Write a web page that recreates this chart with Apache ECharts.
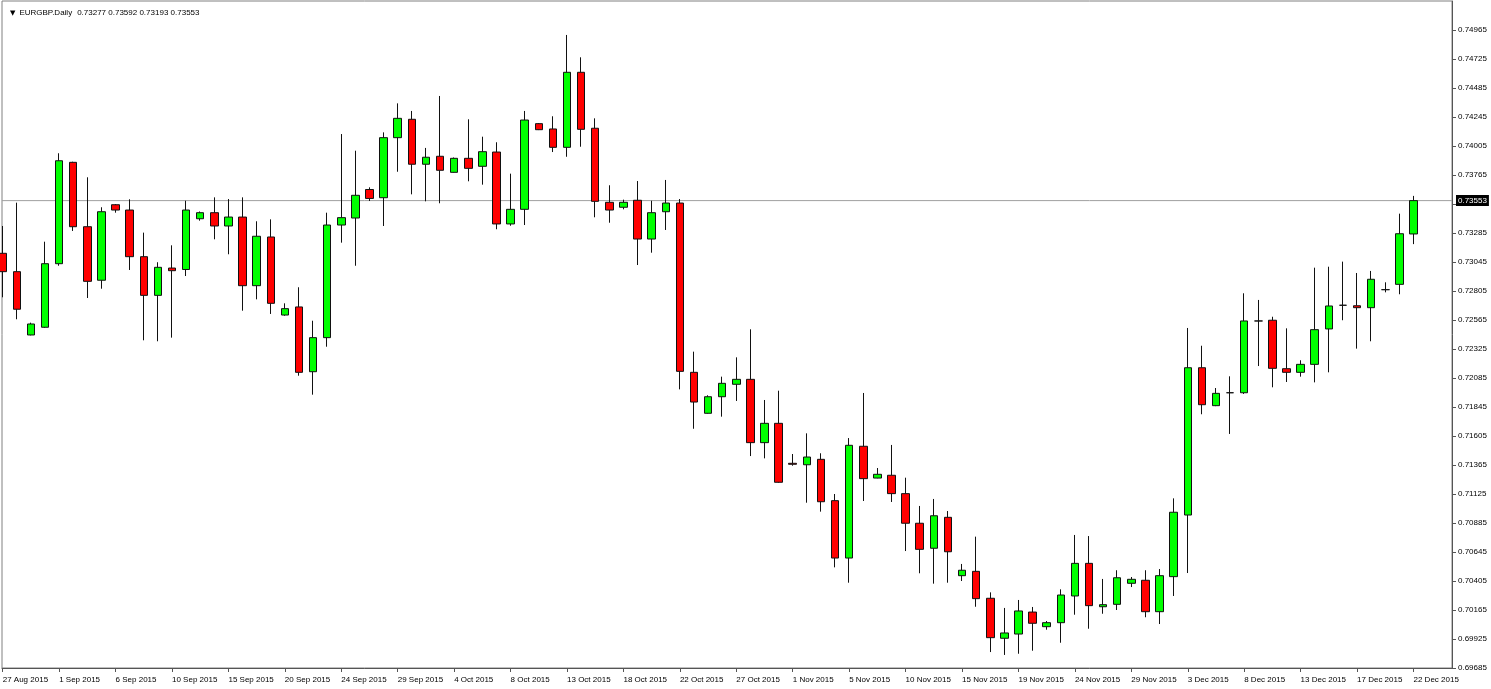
<!DOCTYPE html>
<html><head><meta charset="utf-8">
<script src="https://cdn.jsdelivr.net/npm/echarts@6/dist/echarts.min.js"></script>
<style>html,body{margin:0;padding:0;background:#fff}#c{width:1491px;height:689px}</style>
</head><body><div id="c"></div><script>
const symbolName = 'EURGBP.Daily';
const dates = ['27 Aug 2015','28 Aug 2015','30 Aug 2015','31 Aug 2015',
 '1 Sep 2015','2 Sep 2015','3 Sep 2015','4 Sep 2015','6 Sep 2015','7 Sep 2015','8 Sep 2015','9 Sep 2015','10 Sep 2015','11 Sep 2015',
 '13 Sep 2015','14 Sep 2015','15 Sep 2015','16 Sep 2015','17 Sep 2015','18 Sep 2015','20 Sep 2015','21 Sep 2015','22 Sep 2015','23 Sep 2015',
 '24 Sep 2015','25 Sep 2015','27 Sep 2015','28 Sep 2015','29 Sep 2015','30 Sep 2015',
 '1 Oct 2015','2 Oct 2015','4 Oct 2015','5 Oct 2015','6 Oct 2015','7 Oct 2015','8 Oct 2015','9 Oct 2015','11 Oct 2015','12 Oct 2015',
 '13 Oct 2015','14 Oct 2015','15 Oct 2015','16 Oct 2015','18 Oct 2015','19 Oct 2015','20 Oct 2015','21 Oct 2015','22 Oct 2015','23 Oct 2015',
 '25 Oct 2015','26 Oct 2015','27 Oct 2015','28 Oct 2015','29 Oct 2015','30 Oct 2015',
 '1 Nov 2015','2 Nov 2015','3 Nov 2015','4 Nov 2015','5 Nov 2015','6 Nov 2015','8 Nov 2015','9 Nov 2015','10 Nov 2015','11 Nov 2015',
 '12 Nov 2015','13 Nov 2015','15 Nov 2015','16 Nov 2015','17 Nov 2015','18 Nov 2015','19 Nov 2015','20 Nov 2015','22 Nov 2015','23 Nov 2015',
 '24 Nov 2015','25 Nov 2015','26 Nov 2015','27 Nov 2015','29 Nov 2015','30 Nov 2015',
 '1 Dec 2015','2 Dec 2015','3 Dec 2015','4 Dec 2015','6 Dec 2015','7 Dec 2015','8 Dec 2015','9 Dec 2015','10 Dec 2015','11 Dec 2015',
 '13 Dec 2015','14 Dec 2015','15 Dec 2015','16 Dec 2015','17 Dec 2015','18 Dec 2015','20 Dec 2015','21 Dec 2015','22 Dec 2015'];

const open = [0.73117,0.72965,0.72441,0.72505,0.73031,0.73870,0.73337,0.72894,0.73519,0.73475,
 0.73089,0.72769,0.72995,0.72983,0.73403,0.73453,0.73343,0.73417,0.72849,0.73252,
 0.72606,0.72673,0.72137,0.72419,0.73351,0.73409,0.73645,0.73577,0.74074,0.74226,
 0.73854,0.73920,0.73787,0.73903,0.73837,0.73955,0.73360,0.73481,0.74190,0.74146,
 0.73994,0.74615,0.74152,0.73539,0.73498,0.73556,0.73235,0.73461,0.73533,0.72132,
 0.71793,0.71930,0.72033,0.72074,0.71550,0.71710,0.71379,0.71367,0.71412,0.71070,
 0.70595,0.71520,0.71257,0.71280,0.71128,0.70883,0.70676,0.70932,0.70449,0.70485,
 0.70262,0.69931,0.69966,0.70148,0.70027,0.70060,0.70281,0.70551,0.70192,0.70212,
 0.70386,0.70411,0.70151,0.70441,0.70951,0.72170,0.71856,0.71963,0.71963,0.72557,
 0.72563,0.72162,0.72132,0.72198,0.72491,0.72687,0.72683,0.72667,0.72816,0.72860,
 0.73277];
const high = [0.73343,0.73536,0.72543,0.73213,0.73945,0.73875,0.73746,0.73498,0.73525,0.73564,
 0.73288,0.73043,0.73183,0.73552,0.73463,0.73580,0.73566,0.73580,0.73382,0.73398,
 0.72703,0.72836,0.72559,0.73453,0.74104,0.73966,0.73663,0.74118,0.74358,0.74295,
 0.73989,0.74419,0.73910,0.74226,0.74082,0.74036,0.73776,0.74295,0.74195,0.74251,
 0.74924,0.74739,0.74234,0.73680,0.73561,0.73715,0.73552,0.73724,0.73566,0.72303,
 0.71942,0.72096,0.72256,0.72488,0.71903,0.71980,0.71456,0.71627,0.71462,0.71125,
 0.71588,0.71961,0.71340,0.71531,0.71260,0.71026,0.71084,0.70984,0.70546,0.70772,
 0.70311,0.70182,0.70248,0.70190,0.70074,0.70336,0.70786,0.70777,0.70422,0.70494,
 0.70438,0.70494,0.70504,0.71089,0.72499,0.72352,0.72002,0.72099,0.72786,0.72731,
 0.72592,0.72496,0.72232,0.72998,0.73006,0.73048,0.72954,0.72971,0.72877,0.73445,
 0.73592];
const low = [0.72753,0.72571,0.72438,0.72500,0.73014,0.73302,0.72747,0.72824,0.73453,0.72979,
 0.72397,0.72389,0.72419,0.72929,0.73387,0.73233,0.73109,0.72642,0.72736,0.72615,
 0.72600,0.72104,0.71947,0.72344,0.73205,0.73014,0.73550,0.73343,0.73792,0.73605,
 0.73547,0.73531,0.73785,0.73713,0.73685,0.73316,0.73345,0.73351,0.74137,0.73955,
 0.73916,0.73999,0.73415,0.73370,0.73481,0.73020,0.73122,0.73310,0.71991,0.71665,
 0.71790,0.71765,0.71895,0.71439,0.71420,0.71218,0.71359,0.71053,0.70979,0.70518,
 0.70391,0.71067,0.71255,0.71059,0.70653,0.70469,0.70383,0.70391,0.70405,0.70192,
 0.69817,0.69793,0.69803,0.69828,0.70002,0.69894,0.70126,0.70010,0.70134,0.70165,
 0.70355,0.70105,0.70049,0.70281,0.70471,0.71785,0.71852,0.71622,0.71953,0.72184,
 0.72008,0.72052,0.72096,0.72049,0.72132,0.72563,0.72328,0.72389,0.72794,0.72778,
 0.73193];
const close = [0.72965,0.72654,0.72532,0.73031,0.73883,0.73337,0.72885,0.73461,0.73475,0.73089,
 0.72769,0.73001,0.72973,0.73475,0.73453,0.73343,0.73417,0.72849,0.73258,0.72703,
 0.72659,0.72132,0.72419,0.73351,0.73412,0.73597,0.73571,0.74074,0.74234,0.73854,
 0.73912,0.73804,0.73903,0.73820,0.73958,0.73360,0.73481,0.74220,0.74140,0.73994,
 0.74615,0.74143,0.73547,0.73475,0.73539,0.73235,0.73453,0.73533,0.72140,0.71886,
 0.71930,0.72041,0.72074,0.71550,0.71710,0.71222,0.71371,0.71431,0.71061,0.70595,
 0.71528,0.71252,0.71288,0.71128,0.70883,0.70667,0.70945,0.70647,0.70494,0.70259,
 0.69936,0.69975,0.70157,0.70055,0.70060,0.70289,0.70551,0.70201,0.70209,0.70432,
 0.70419,0.70151,0.70449,0.70974,0.72170,0.71864,0.71958,0.71963,0.72557,0.72557,
 0.72165,0.72132,0.72198,0.72485,0.72681,0.72687,0.72667,0.72902,0.72816,0.73279,
 0.73553];
const yTickLabels = [0.69685,0.69925,0.70165,0.70405,0.70645,0.70885,0.71125,0.71365,0.71605,0.71845,
 0.72085,0.72325,0.72565,0.72805,0.73045,0.73285,0.73525,0.73765,0.74005,0.74245,0.74485,0.74725,0.74965];
const dateLabelStep = 4;
const xMin = -0.05, xMax = 102.73;
const yMin = 0.69685, yMax = 0.75205;

const last = dates.length - 1;
const xTickIdx = dates.map((d, i) => i).filter(i => i % dateLabelStep === 0);
const candles = dates.map((d, i) => [i, open[i], close[i], low[i], high[i]]);
const priceLine = [[xMin, close[last]], [xMax, close[last]]];
const headerVals = [open[last], high[last], low[last], close[last]].map(v => v.toFixed(5)).join(' ');
const FONT = 'Liberation Sans';

const chart = echarts.init(document.getElementById('c'), null, {renderer: 'canvas'});
chart.setOption({
  animation: false,
  backgroundColor: '#ffffff',
  title: {
    left: 5, top: 4,
    text: '{t|▼}{n|' + symbolName + '}{v|' + headerVals + '}',
    textStyle: {
      fontWeight: 'normal',
      rich: {
        t: {fontFamily: 'DejaVu Sans', fontSize: 7, fontWeight: 'normal', color: '#000', padding: [0, 4, 0, 0]},
        n: {fontFamily: FONT, fontSize: 8, fontWeight: 'normal', color: '#000', padding: [0, 5, 0, 0]},
        v: {fontFamily: FONT, fontSize: 8, fontWeight: 'normal', color: '#000'}
      }
    }
  },
  grid: {left: 2, right: 39, top: 1, bottom: 21, show: true, borderColor: '#808080', borderWidth: 1, outerBoundsMode: 'none'},
  xAxis: {
    type: 'value', min: xMin, max: xMax,
    splitLine: {show: false},
    axisLine: {show: true, onZero: false, lineStyle: {color: '#555'}},
    axisTick: {show: true, customValues: xTickIdx, length: 4, lineStyle: {color: '#555'}},
    axisLabel: {customValues: xTickIdx, formatter: v => dates[Math.round(v)] || '', align: 'left', margin: 8,
      fontSize: 8, fontFamily: FONT, color: '#000'}
  },
  yAxis: {
    type: 'value', position: 'right', min: yMin, max: yMax,
    splitLine: {show: false},
    axisLine: {show: true, onZero: false, lineStyle: {color: '#555'}},
    axisTick: {show: true, customValues: yTickLabels, length: 4, lineStyle: {color: '#555'}},
    axisLabel: {customValues: yTickLabels, formatter: v => v.toFixed(5), margin: 6,
      fontSize: 8, fontFamily: FONT, color: '#000'}
  },
  series: [{
    type: 'line',
    data: priceLine,
    symbol: 'none',
    silent: true,
    z: 1,
    lineStyle: {color: '#a0a0a0', width: 1, type: 'solid'},
    endLabel: {show: true, formatter: close[last].toFixed(5), backgroundColor: '#000', color: '#fff',
      fontSize: 8, fontFamily: FONT, padding: [2, 2, 1, 2], distance: 4}
  }, {
    type: 'candlestick',
    data: candles,
    barWidth: 8,
    z: 3,
    itemStyle: {color: '#00ff00', color0: '#ff0000', borderColor: '#111', borderColor0: '#111', borderColorDoji: '#111', borderWidth: 1}
  }]
});
</script></body></html>
